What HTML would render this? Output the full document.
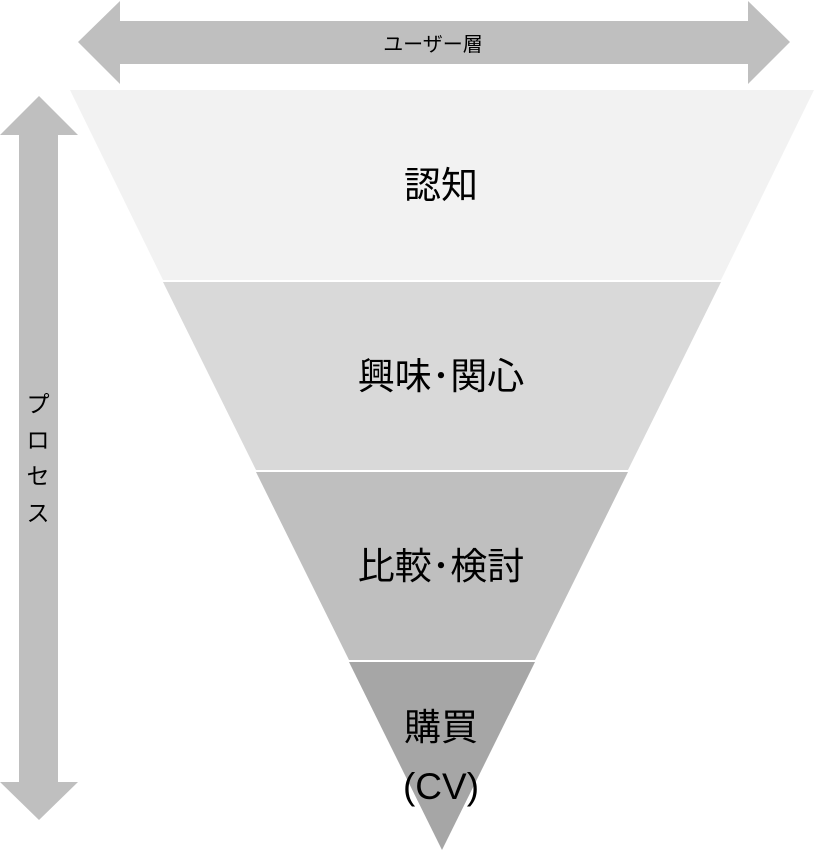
<!DOCTYPE html>
<html><head><meta charset="utf-8"><style>
html,body{margin:0;padding:0;background:#fff;}
svg{display:block;}
text{font-family:"Liberation Sans","Noto Sans CJK JP",sans-serif;fill:#000;}
</style></head><body>
<svg width="818" height="856" viewBox="0 0 818 856" xmlns="http://www.w3.org/2000/svg">
<polygon points="78,42 120,1 120,21 748,21 748,1 790,42 748,84 748,64 120,64 120,84" fill="#bfbfbf"/>
<polygon points="39,96 78,135 58,135 58,782 78,782 39,820 0,782 19,782 19,135 0,135" fill="#bfbfbf"/>
<polygon points="70,90 814,90 721,280 163,280" fill="#f2f2f2"/>
<polygon points="163,282 721,282 628,470 256,470" fill="#d9d9d9"/>
<polygon points="256,472 628,472 535,660 349,660" fill="#bfbfbf"/>
<polygon points="349,662 535,662 442,850" fill="#a6a6a6"/>
<text x="433" y="51" font-size="20" text-anchor="middle">ユーザー層</text>
<text x="441" y="198" font-size="37" text-anchor="middle">認知</text>
<text x="441" y="389" font-size="37" text-anchor="middle">興味･関心</text>
<text x="441" y="579" font-size="37" text-anchor="middle">比較･検討</text>
<text x="441" y="740" font-size="37" text-anchor="middle">購買</text>
<text x="441" y="799" font-size="37" text-anchor="middle">(CV)</text>
<g font-size="23" text-anchor="middle">
<text x="38" y="412">プ</text>
<text x="38" y="448">ロ</text>
<text x="38" y="484">セ</text>
<text x="38" y="521">ス</text>
</g>
</svg>
</body></html>
